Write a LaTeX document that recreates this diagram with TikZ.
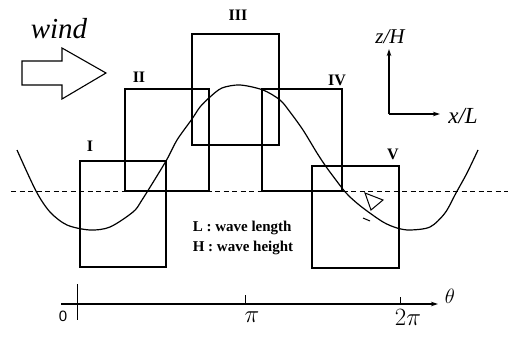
\documentclass[tikz,border=0pt]{standalone}
\usepackage{fontspec}
\setmainfont{Liberation Serif}
\setsansfont{Liberation Sans}
\usetikzlibrary{arrows.meta}
\begin{document}
\begin{tikzpicture}[x=1pt,y=-1pt,
  box/.style={draw,line width=1.1pt,inner sep=0pt,outer sep=0pt},
  roman/.style={font=\fontsize{16}{16}\selectfont\bfseries,inner sep=0pt},
  wave/.style={line width=1.2pt},
  axis/.style={line width=1.1pt,-{Stealth[length=7pt,width=4.5pt]}},
  tick/.style={line width=0.9pt},
  itlab/.style={font=\fontsize{21}{21}\selectfont\itshape,inner sep=0pt},
  legend/.style={font=\fontsize{15}{19.5}\selectfont\bfseries,inner sep=0pt,align=left}]
\useasboundingbox (0,0) rectangle (508,337);
% boxes
\node[box,minimum width=86pt,minimum height=106pt] (b1) at (123,214) {};
\node[box,minimum width=84pt,minimum height=102pt] (b2) at (167,140) {};
\node[box,minimum width=87pt,minimum height=111pt] (b3) at (235.5,89.5) {};
\node[box,minimum width=80pt,minimum height=102pt] (b4) at (302,140) {};
\node[box,minimum width=87pt,minimum height=102pt] (b5) at (355.5,217) {};
% roman numerals
\node[roman] (r1) at (90,146) {I};
\node[roman] (r2) at (139,77) {II};
\node[roman] (r3) at (238,15) {III};
\node[roman] (r4) at (337,80) {IV};
\node[roman] (r5) at (393,154) {V};
% still water level
\coordinate (d0) at (11,191);
\coordinate (d1) at (508,191);
\draw[line width=1pt,dash pattern=on 5pt off 3.5pt] (d0) -- (d1);
% wave
\draw[wave] plot[smooth,tension=0.5] coordinates {
 (17,150) (36,191) (50,212) (67,225) (90,230) (110,227) (133,212) (142,200)
 (166,161) (177,140) (192,119) (200,107) (210,97) (222,88) (240,85) (263,90)
 (280,100) (290,112) (303,130) (317,153) (327,168) (342,188) (350,197)
 (363,208) (383,222) (397,228) (410,230) (430,227) (445,213) (456,193)
 (467,173) (478,150)};
% small marker
\draw[line width=1pt] (365,193) -- (383,200) -- (371,210) -- cycle;
\draw[line width=1pt] (363,218) -- (370,221);
% wind arrow
\coordinate (w1) at (22,61);
\coordinate (w2) at (62,61);
\coordinate (w3) at (62,48);
\coordinate (w4) at (106,73);
\coordinate (w5) at (62,99);
\coordinate (w6) at (62,85);
\coordinate (w7) at (22,85);
\draw[line width=1.1pt,line join=miter] (w1) -- (w2) -- (w3) -- (w4) -- (w5) -- (w6) -- (w7) -- cycle;
\node[font=\fontsize{29}{29}\selectfont\itshape,inner sep=0pt] (wind) at (59,29) {wind};
% axes z/H, x/L
\coordinate (o) at (389,114);
\coordinate (zt) at (389,49);
\coordinate (xt) at (440,114);
\draw[axis] (o) -- (zt);
\draw[axis] (o) -- (xt);
\node[itlab] (zl) at (390,37) {z/H};
\node[itlab,font=\fontsize{23}{23}\selectfont\itshape] (xl) at (463,116) {x/L};
% legend
\node[legend] (leg) at (243,238) {L : wave length\\H : wave height};
% theta axis
\coordinate (a0) at (61,304);
\coordinate (a1) at (438,304);
\draw[axis] (a0) -- (a1);
\coordinate (t0a) at (77,284);
\coordinate (t0b) at (77,320);
\coordinate (t1a) at (245,295);
\coordinate (t1b) at (245,304);
\coordinate (t2a) at (400,297);
\coordinate (t2b) at (400,304);
\draw[tick] (t0a) -- (t0b);
\draw[tick] (t1a) -- (t1b);
\draw[tick] (t2a) -- (t2b);
\node[font=\fontsize{15}{15}\sffamily,inner sep=0pt] (l0) at (63,316) {0};
\node[font=\fontsize{24}{24}\selectfont,inner sep=0pt] (l1) at (252,317) {$\pi$};
\node[font=\fontsize{24}{24}\selectfont,inner sep=0pt] (l2) at (408,317) {$2\pi$};
\node[font=\fontsize{22}{22}\selectfont,inner sep=0pt] (lt) at (450,296) {$\theta$};
\end{tikzpicture}
\end{document}
